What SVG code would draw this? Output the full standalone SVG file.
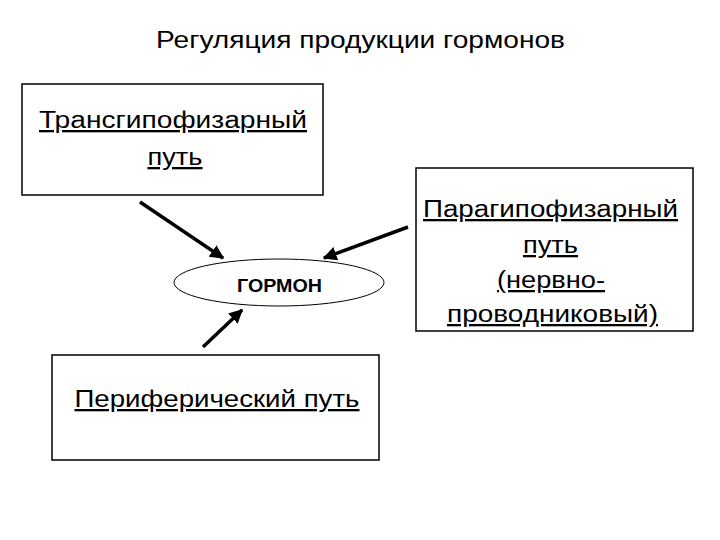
<svg xmlns="http://www.w3.org/2000/svg" width="720" height="540" viewBox="0 0 720 540">
<defs>
<style>
.box{fill:#fff;stroke:#000;stroke-width:1.5}
.t{font-family:"Liberation Sans",Arial,sans-serif;font-size:23px;fill:#000;text-anchor:middle}
.u{text-decoration:underline}
.c{stroke:#000;stroke-width:3.5;fill:none;marker-end:url(#ah)}
</style>
<marker id="ah" viewBox="0 0 10 10" refX="9" refY="5" markerWidth="4" markerHeight="4" orient="auto">
<path d="M0,0 L10,5 L0,10 Z" fill="#000"/>
</marker>
</defs>
<rect width="720" height="540" fill="#fff"/>
<text id="title" x="360.5" y="48" class="t" style="font-size:24px" textLength="409" lengthAdjust="spacingAndGlyphs">Регуляция продукции гормонов</text>
<g id="trans">
<rect class="box" x="22" y="84" width="301" height="111"/>
<text class="t u" x="173" y="128" textLength="268" lengthAdjust="spacingAndGlyphs">Трансгипофизарный</text>
<text class="t u" x="175" y="165" textLength="55" lengthAdjust="spacingAndGlyphs">путь</text>
</g>
<g id="para">
<rect class="box" x="416" y="168" width="277" height="163"/>
<text class="t u" x="550.5" y="217" textLength="255" lengthAdjust="spacingAndGlyphs">Парагипофизарный</text>
<text class="t u" x="550.5" y="253" textLength="55" lengthAdjust="spacingAndGlyphs">путь</text>
<text class="t u" x="551" y="288" textLength="108" lengthAdjust="spacingAndGlyphs">(нервно-</text>
<text class="t u" x="552.5" y="322" textLength="211" lengthAdjust="spacingAndGlyphs">проводниковый)</text>
</g>
<g id="hormone">
<ellipse cx="279" cy="282.5" rx="105" ry="23.5" fill="#fff" stroke="#000" stroke-width="1"/>
<text class="t" x="279.5" y="292" style="font-size:19px;font-weight:bold" textLength="85" lengthAdjust="spacingAndGlyphs">ГОРМОН</text>
</g>
<g id="peri">
<rect class="box" x="52" y="355" width="327" height="105"/>
<text class="t u" x="217" y="407" textLength="285" lengthAdjust="spacingAndGlyphs">Периферический путь</text>
</g>
<g id="connectors">
<line class="c" x1="140" y1="202" x2="223" y2="258"/>
<line class="c" x1="408" y1="227" x2="324" y2="258"/>
<line class="c" x1="203" y1="347" x2="242" y2="310"/>
</g>
</svg>
